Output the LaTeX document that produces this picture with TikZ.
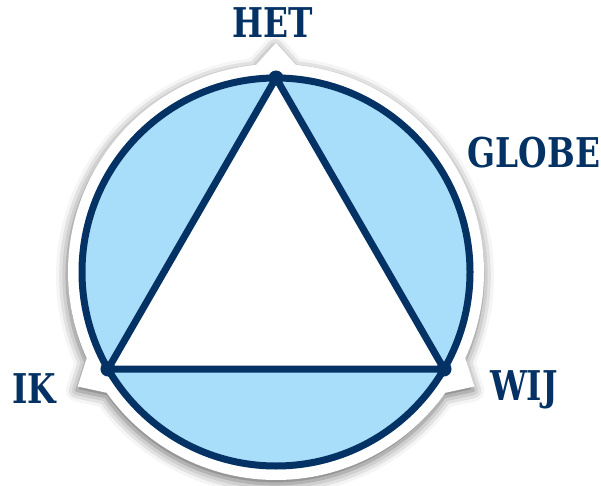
\documentclass[tikz,border=0pt]{standalone}
\usepackage{fontspec}
\setmainfont{DejaVu Serif}
\usetikzlibrary{shadows.blur,calc}
\definecolor{dblue}{RGB}{5,50,100}
\definecolor{lblue}{RGB}{168,222,249}
\tikzset{
  lbl/.style={text=dblue,font=\bfseries\fontsize{41}{41}\selectfont,inner sep=0pt,anchor=base,xscale=0.8},
  ring/.style={draw=dblue,line width=7pt,fill=lblue},
  tri/.style={draw=dblue,line width=7pt,fill=white,line join=round},
  dot/.style={circle,fill=dblue,minimum size=15pt,inner sep=0pt}
}
\begin{document}
\begin{tikzpicture}[x=1pt,y=1pt]
\useasboundingbox (0,0) rectangle (601,485);
\coordinate (C) at (276,213);
% white outer shape with shadow
\fill[white,blur shadow={shadow xshift=-1pt,shadow yshift=-4pt,shadow blur radius=11pt,shadow opacity=60}]
  ($(C)+(95.5:208)$) -- ($(C)+(90:229)$) -- ($(C)+(84.5:208)$)
  arc[start angle=84.5,end angle=-24.5,radius=208]
  -- ($(C)+(-30:229)$) -- ($(C)+(-35.5:208)$)
  arc[start angle=-35.5,end angle=-144.5,radius=208]
  -- ($(C)+(210:229)$) -- ($(C)+(204.5:208)$)
  arc[start angle=204.5,end angle=95.5,radius=208] -- cycle;
\draw[ring] (C) circle[radius=194];
\coordinate (T) at ($(C)+(90:194)$);
\coordinate (L) at ($(C)+(210:194)$);
\coordinate (R) at ($(C)+(-30:194)$);
\draw[tri] (T) -- (L) -- (R) -- cycle;
\node[dot] (dT) at (T) {};
\node[dot] (dL) at (L) {};
\node[dot] (dR) at (R) {};
\node[lbl] (het) at (273,447) {HET};
\node[lbl] (globe) at (534,317) {GLOBE};
\node[lbl] (ik) at (34,82) {IK};
\node[lbl] (wij) at (524,85) {WIJ};
\end{tikzpicture}
\end{document}
